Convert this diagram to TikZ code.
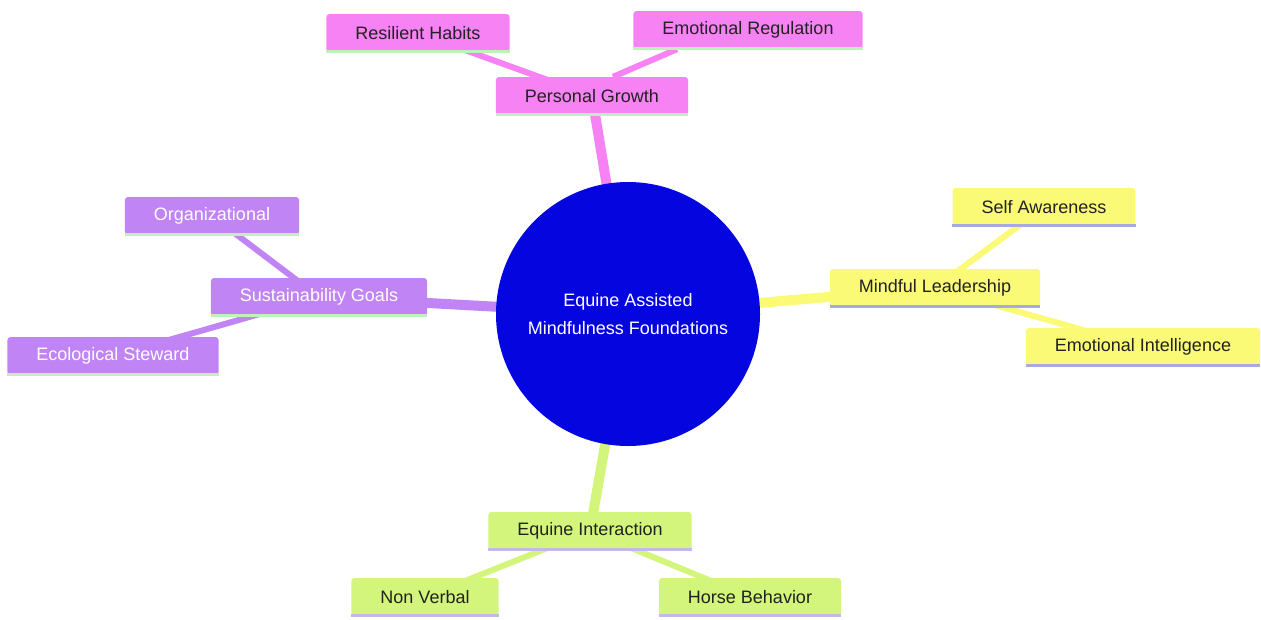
\documentclass[tikz,border=0pt]{standalone}
\usepackage{fontspec}
\setmainfont{Liberation Sans}
\usetikzlibrary{backgrounds,calc}
\definecolor{cpink}{HTML}{F682F4}
\definecolor{cyellow}{HTML}{FAFA76}
\definecolor{cpurple}{HTML}{C084F5}
\definecolor{cgreen}{HTML}{D3F57B}
\definecolor{cblue}{HTML}{0505E0}
\definecolor{ulgreen}{HTML}{BDF2B8}
\definecolor{ulblue}{HTML}{A8A8E4}
\definecolor{ullav}{HTML}{C6B6EA}
\definecolor{txtdark}{HTML}{222222}
\tikzset{
  mmbox/.style={rectangle, rounded corners=3pt, minimum height=38pt, inner xsep=29pt, inner ysep=0pt,
    font=\fontsize{18}{22}\selectfont, text=txtdark},
  pinkbox/.style={mmbox, fill=cpink},
  yellowbox/.style={mmbox, fill=cyellow},
  purplebox/.style={mmbox, fill=cpurple, text=white},
  greenbox/.style={mmbox, fill=cgreen},
  rootedge/.style={line width=10pt},
  subedge/.style={line width=6pt},
  uline/.style={line width=3pt}
}
\begin{document}
\begin{tikzpicture}[x=1pt,y=-1pt]
\useasboundingbox (0,0) rectangle (1261,619);
% root
\node[circle, fill=cblue, minimum size=264pt, text=white, align=center,
  font=\fontsize{18}{28}\selectfont] (root) at (628,314) {Equine Assisted\\Mindfulness Foundations};
% personal growth
\node[pinkbox] (pg) at (592,96) {Personal Growth};
\node[pinkbox] (rh) at (418,33) {Resilient Habits};
\node[pinkbox] (er) at (748,30) {Emotional Regulation};
% mindful leadership
\node[yellowbox] (ml) at (935,288) {Mindful Leadership};
\node[yellowbox] (sa) at (1044,207) {Self Awareness};
\node[yellowbox] (ei) at (1143,347) {Emotional Intelligence};
% sustainability
\node[purplebox] (sg) at (319,297) {Sustainability Goals};
\node[purplebox] (org) at (212,216) {Organizational};
\node[purplebox] (es) at (113,356) {Ecological Steward};
% equine interaction
\node[greenbox] (eqi) at (590,531) {Equine Interaction};
\node[greenbox] (nv) at (425,597) {Non Verbal};
\node[greenbox] (hb) at (750,597) {Horse Behavior};
% underlines
\foreach \n in {pg,rh,er}{\draw[uline,ulgreen] ([yshift=1pt]\n.south west) -- ([yshift=1pt]\n.south east);}
\foreach \n in {sg,org,es}{\draw[uline,ulgreen] ([yshift=1pt]\n.south west) -- ([yshift=1pt]\n.south east);}
\foreach \n in {ml,sa,ei}{\draw[uline,ulblue] ([yshift=1pt]\n.south west) -- ([yshift=1pt]\n.south east);}
\foreach \n in {eqi,nv,hb}{\draw[uline,ullav] ([yshift=1pt]\n.south west) -- ([yshift=1pt]\n.south east);}
\begin{pgfonlayer}{background}
\draw[rootedge,cpink] (root.center) -- (pg.center);
\draw[subedge,cpink] (pg.center) -- (rh.center);
\draw[subedge,cpink] ([xshift=21pt]pg.north) -- ([xshift=-71pt]er.south);
\draw[rootedge,cyellow] (root.center) -- (ml.center);
\draw[subedge,cyellow] (ml.center) -- (sa.center);
\draw[subedge,cyellow] (ml.center) -- (ei.center);
\draw[rootedge,cpurple] (root.center) -- (sg.center);
\draw[subedge,cpurple] (sg.center) -- (org.center);
\draw[subedge,cpurple] (sg.center) -- (es.center);
\draw[rootedge,cgreen] (root.center) -- (eqi.center);
\draw[subedge,cgreen] (eqi.center) -- (nv.center);
\draw[subedge,cgreen] (eqi.center) -- (hb.center);
\end{pgfonlayer}
\end{tikzpicture}
\end{document}
